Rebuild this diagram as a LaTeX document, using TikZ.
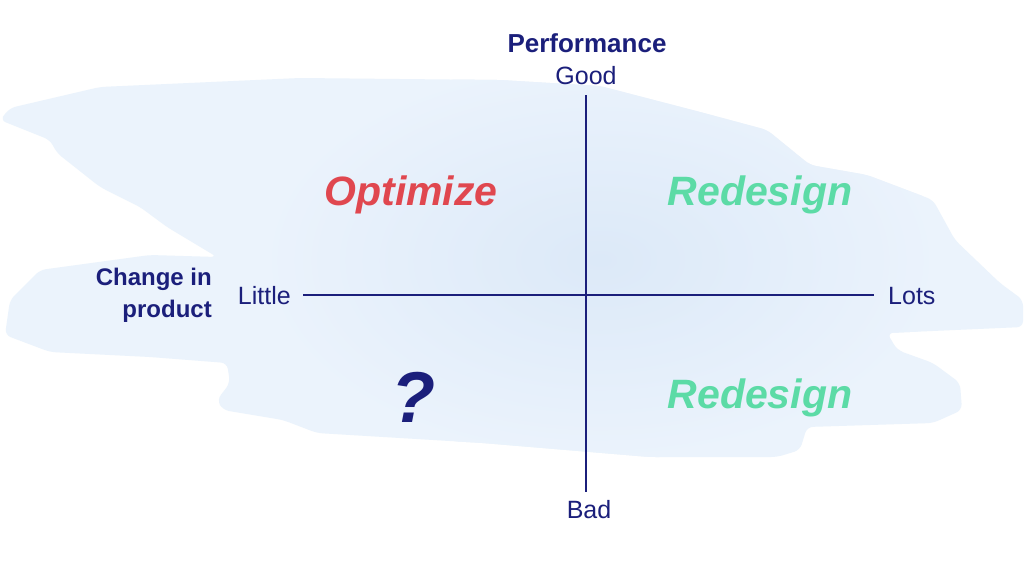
\documentclass[tikz,border=0pt]{standalone}
\usepackage{fontspec}
\setmainfont{Liberation Sans}
\definecolor{navy}{HTML}{1B1F7B}
\definecolor{optred}{HTML}{E0474F}
\definecolor{mint}{HTML}{5CDBA6}
\definecolor{wash}{HTML}{EBF3FC}
\definecolor{washdeep}{HTML}{DCE9F8}
\begin{document}
\begin{tikzpicture}[x=1pt,y=-1pt,
  lbl/.style={text=navy,font=\fontsize{25}{30}\selectfont,inner sep=0pt},
  ttl/.style={text=navy,font=\fontsize{24}{32}\selectfont\bfseries,inner sep=0pt},
  quad/.style={font=\fontsize{41}{48}\selectfont\bfseries\itshape,inner sep=0pt},
  axis/.style={draw=navy,line width=2.8pt}]
\useasboundingbox (0,0) rectangle (1024,576);
\fill[white] (0,0) rectangle (1024,576);
\def\blob{(0,120) -- (10,108) -- (100,87) -- (300,78) -- (500,80) -- (600,86) -- (700,112) -- (767,130) -- (810,165) -- (867,175) -- (933,200) -- (955,240) -- (1000,283) -- (1023,300) -- (1023,327) -- (887,333) -- (897,350) -- (933,363) -- (960,383) -- (962,410) -- (933,423) -- (807,427) -- (800,450) -- (777,457) -- (650,457) -- (483,443) -- (317,433) -- (283,420) -- (223,410) -- (217,400) -- (230,383) -- (227,363) -- (150,357) -- (50,352) -- (5,335) -- (10,300) -- (40,270) -- (150,255) -- (217,257) -- (167,227) -- (140,207) -- (100,187) -- (57,153) -- (50,140) -- cycle}
\begin{scope}
\clip[rounded corners=6pt] \blob;
\fill[wash] (0,0) rectangle (1024,576);
\shade[inner color=washdeep,outer color=wash] (600,260) ellipse [x radius=340,y radius=200];
\end{scope}
\node[ttl,font=\fontsize{26}{32}\selectfont\bfseries] (perf) at (587,43) {Performance};
\node[lbl] (good) at (586,76) {Good};
\node[lbl] (bad) at (589,510) {Bad};
\node[lbl,anchor=east] (little) at (291,296) {Little};
\node[lbl,anchor=west] (lots) at (888,296) {Lots};
\node[ttl,anchor=east,align=right] (change) at (212,295) {Change in\\product};
\coordinate (top) at (586,95);
\coordinate (bottom) at (586,492);
\coordinate (west) at (303,295);
\coordinate (east) at (874,295);
\draw[axis] (top) -- (bottom);
\draw[axis] (west) -- (east);
\node[quad,text=optred] (opt) at (411,195) {Optimize};
\node[quad,text=mint] (red1) at (760,195) {Redesign};
\node[quad,text=mint] (red2) at (760,398) {Redesign};
\node[text=navy,font=\fontsize{72}{80}\selectfont\bfseries\itshape,inner sep=0pt] (q) at (413,397) {?};
\end{tikzpicture}
\end{document}
